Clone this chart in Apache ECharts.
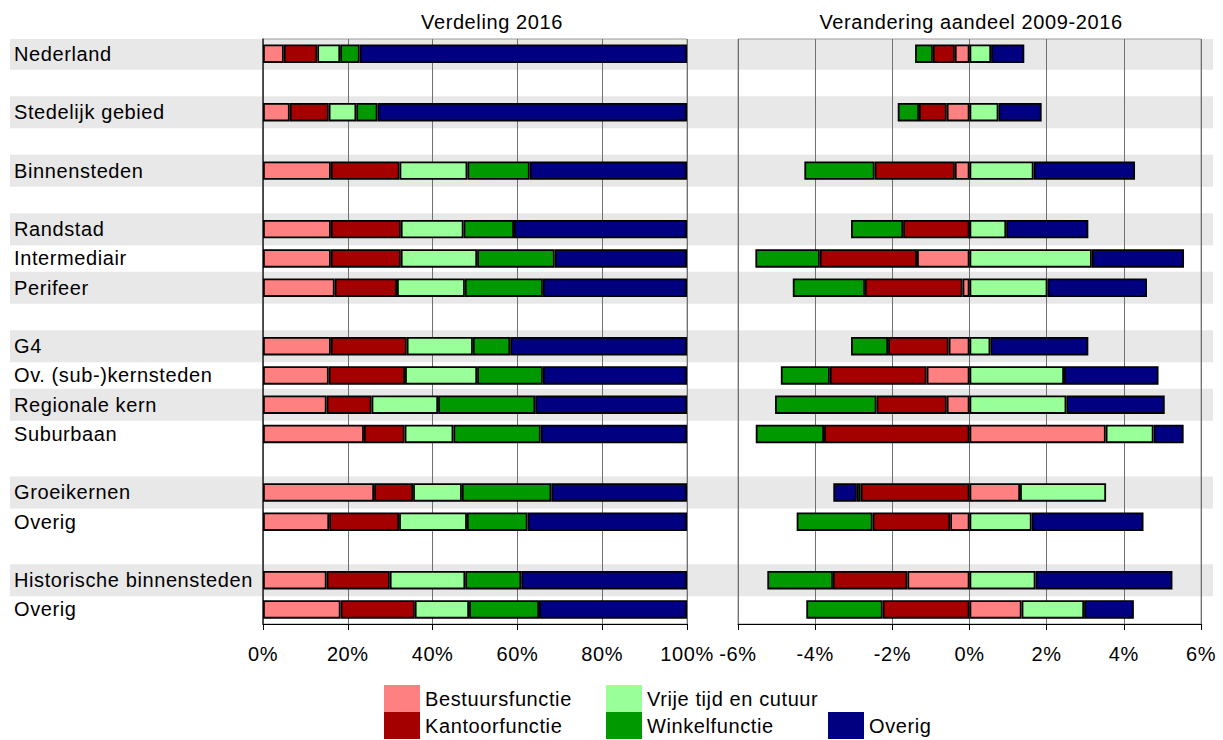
<!DOCTYPE html>
<html><head><meta charset="utf-8">
<script src="https://cdn.jsdelivr.net/npm/echarts@6/dist/echarts.min.js"></script>
<style>html,body{margin:0;padding:0;background:#fff}#c{width:1223px;height:740px}#c svg text{letter-spacing:0.6px}</style>
</head><body><div id="c"></div>
<script>
const categories = ['Nederland','','Stedelijk gebied','','Binnensteden','','Randstad','Intermediair','Perifeer','','G4','Ov. (sub-)kernsteden','Regionale kern','Suburbaan','','Groeikernen','Overig','','Historische binnensteden','Overig'];
const shadedRows = [1,0,1,0,1,0,1,0,1,0,1,0,1,0,0,1,0,0,1,0];
const seriesNames = ['Bestuursfunctie','Kantoorfunctie','Vrije tijd en cutuur','Winkelfunctie','Overig'];
const seriesColors = ['#FF8080','#A40000','#99FF99','#009900','#000080'];
const titles = ['Verdeling 2016','Verandering aandeel 2009-2016'];
// Verdeling 2016 (%)
const verdBestuur = [4.9,null,6.3,null,16.0,null,16.0,16.0,16.9,null,16.0,15.5,15.0,23.8,null,26.2,15.6,null,15.0,18.3];
const verdKantoor = [7.9,null,9.2,null,16.2,null,16.5,16.5,14.7,null,17.9,18.0,10.6,9.6,null,9.2,16.5,null,14.9,17.5];
const verdVrije   = [5.4,null,6.5,null,16.0,null,14.8,18.0,16.0,null,15.6,17.0,15.7,11.5,null,11.5,16.0,null,17.8,12.8];
const verdWinkel  = [4.6,null,5.0,null,14.7,null,11.9,18.3,18.4,null,8.8,15.5,22.9,20.6,null,21.1,14.3,null,13.2,16.5];
const verdOverig  = [77.2,null,73.0,null,37.1,null,40.8,31.2,34.0,null,41.7,34.0,35.8,34.5,null,32.0,37.6,null,39.1,34.9];
// Verandering aandeel 2009-2016 (%-punt)
const verBestuur = [-0.38,null,-0.59,null,-0.38,null,0,-1.36,-0.18,null,-0.54,-1.11,-0.59,3.53,null,1.31,-0.50,null,-1.61,1.35];
const verKantoor = [-0.57,null,-0.72,null,-2.08,null,-1.72,-2.52,-2.53,null,-1.57,-2.51,-1.82,-3.77,null,-2.82,-2.01,null,-1.93,-2.25];
const verVrije   = [0.56,null,0.75,null,1.66,null,0.95,3.17,2.02,null,0.54,2.45,2.51,1.24,null,2.23,1.61,null,1.71,1.62];
const verWinkel  = [-0.46,null,-0.55,null,-1.82,null,-1.35,-1.67,-1.87,null,-0.96,-1.27,-2.63,-1.77,null,-0.10,-1.97,null,-1.70,-1.98];
const verOverig  = [0.86,null,1.12,null,2.63,null,2.13,2.39,2.58,null,2.54,2.45,2.55,0.78,null,-0.61,2.90,null,3.55,1.29];
const leftAxis = {min:0, max:100, interval:20};
const rightAxis = {min:-6, max:6, interval:2};

const verdData = [verdBestuur, verdKantoor, verdVrije, verdWinkel, verdOverig];
const verData = [verBestuur, verKantoor, verVrije, verWinkel, verOverig];

const FONT = "'Liberation Sans', Arial, sans-serif";
const TOP = 39, HEIGHT = 585;

const chart = echarts.init(document.getElementById('c'), null, {renderer:'svg'});

function valueAxis(gridIndex, ax) {
  return {
    type:'value', gridIndex, min:ax.min, max:ax.max, interval:ax.interval, z:1,
    axisLine:{show:true, onZero:false, lineStyle:{color:'#000', width:1}},
    axisTick:{show:true, length:6, lineStyle:{color:'#000', width:1}},
    axisLabel:{formatter:'{value}%', color:'#000', fontSize:20, fontFamily:FONT, margin:20, hideOverlap:false},
    splitLine:{show:true, lineStyle:{color:'#707070', width:1}}
  };
}

const series = [{
  name:'__bands', type:'bar', xAxisIndex:0, yAxisIndex:0, silent:true, z:-5,
  barWidth:32, itemStyle:{color:'#E8E8E8'}, animation:false,
  data: shadedRows.map(v => v ? 1 : null)
}];
seriesNames.forEach((n, i) => {
  series.push({
    name:n, type:'bar', stack:'verd', xAxisIndex:1, yAxisIndex:1, barWidth:18.5, z:2,
    itemStyle:{color:seriesColors[i], borderColor:'#000', borderWidth:1.8},
    data: verdData[i]
  });
});
seriesNames.forEach((n, i) => {
  series.push({
    name:n, type:'bar', stack:'ver', xAxisIndex:2, yAxisIndex:2, barWidth:18.5, z:2,
    itemStyle:{color:seriesColors[i], borderColor:'#000', borderWidth:1.8},
    data: verData[i]
  });
});

const legendCommon = {
  orient:'vertical', itemWidth:36, itemHeight:27, itemGap:0, padding:0, icon:'rect',
  selectedMode:false,
  itemStyle:{borderWidth:0},
  textStyle:{fontSize:20, color:'#000', fontFamily:FONT}
};

chart.setOption({
  animation:false,
  textStyle:{fontFamily:FONT},
  graphic:[
    {type:'text', x:492, y:22, style:{text:titles[0], align:'center', verticalAlign:'middle', textAlign:'center', textVerticalAlign:'middle', fill:'#000', font:"20px 'Liberation Sans', Arial, sans-serif"}},
    {type:'text', x:971, y:22, style:{text:titles[1], align:'center', verticalAlign:'middle', textAlign:'center', textVerticalAlign:'middle', fill:'#000', font:"20px 'Liberation Sans', Arial, sans-serif"}}
  ],
  grid:[
    {left:10, width:1203, top:TOP, height:HEIGHT, show:false, containLabel:false},
    {left:263, width:424, top:TOP, height:HEIGHT, show:true, borderColor:'#999', borderWidth:1, backgroundColor:'transparent', containLabel:false},
    {left:738, width:463, top:TOP, height:HEIGHT, show:true, borderColor:'#999', borderWidth:1, backgroundColor:'transparent', containLabel:false}
  ],
  xAxis:[
    {type:'value', gridIndex:0, min:0, max:1, show:false},
    valueAxis(1, leftAxis),
    valueAxis(2, rightAxis)
  ],
  yAxis:[
    {type:'category', gridIndex:0, data:categories, inverse:true, show:false},
    {type:'category', gridIndex:1, data:categories, inverse:true, z:1,
      axisLine:{show:true, lineStyle:{color:'#333', width:1.5}},
      axisTick:{show:false},
      axisLabel:{align:'left', margin:249, color:'#000', fontSize:20, fontFamily:FONT, interval:0},
      splitLine:{show:false}},
    {type:'category', gridIndex:2, data:categories, inverse:true, z:1,
      axisLine:{show:false}, axisTick:{show:false}, axisLabel:{show:false}, splitLine:{show:false}}
  ],
  legend:[
    Object.assign({}, legendCommon, {data:[seriesNames[0], seriesNames[1]], left:384, top:685}),
    Object.assign({}, legendCommon, {data:[seriesNames[2], seriesNames[3]], left:606, top:685}),
    Object.assign({}, legendCommon, {data:[seriesNames[4]], left:828, top:712})
  ],
  series
});
</script></body></html>
